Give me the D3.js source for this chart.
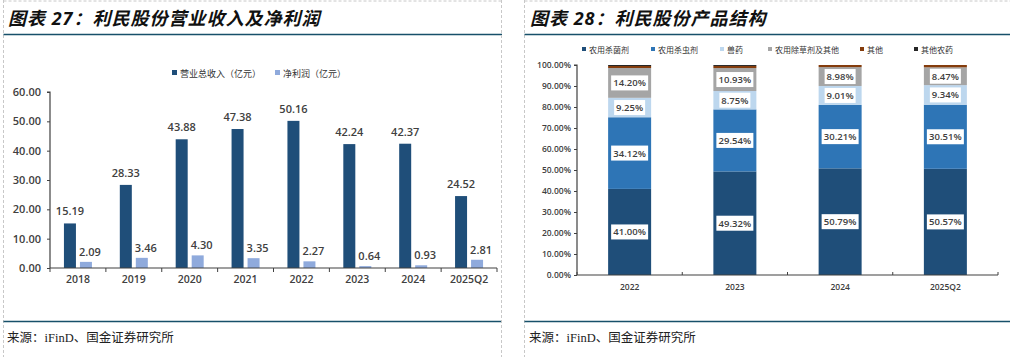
<!DOCTYPE html>
<html><head><meta charset="utf-8">
<script src="https://cdn.jsdelivr.net/npm/d3@7/dist/d3.min.js"></script>
<style>
body{margin:0;background:#fff;}
svg{display:block;}
text{font-family:"Open Sans","Noto Sans CJK SC",sans-serif;}
</style></head>
<body>
<svg id="c" width="1010" height="357"></svg>
<script>
// ---- Left chart data ----
const years = ["2018","2019","2020","2021","2022","2023","2024","2025Q2"];
const revenue = [15.19,28.33,43.88,47.38,50.16,42.24,42.37,24.52];
const netProfit = [2.09,3.46,4.30,3.35,2.27,0.64,0.93,2.81];
const leftSeries = ["营业总收入（亿元）","净利润（亿元）"];
const leftTicks = [0,10,20,30,40,50,60];

// ---- Right chart data ----
const periods = ["2022","2023","2024","2025Q2"];
const structSeries = ["农用杀菌剂","农用杀虫剂","兽药","农用除草剂及其他","其他","其他农药"];
const fungicide = [41.00,49.32,50.79,50.57];
const insecticide = [34.12,29.54,30.21,30.51];
const vetDrug = [9.25,8.75,9.01,9.34];
const herbicide = [14.20,10.93,8.98,8.47];
const others = [0.95,1.00,1.01,1.11];
const otherPesticide = [0.48,0.46,0.00,0.00];
const rightTicks = [0,10,20,30,40,50,60,70,80,90,100];

const svg = d3.select("#c");
const teal = "#17506a";
const axisCol = "#404040";
const labCol = "#404040";

// panel frames
function frame(x0,x1){
  svg.append("line").attr("x1",x0).attr("x2",x0).attr("y1",0).attr("y2",357)
    .attr("stroke","#c8c8c8").attr("stroke-dasharray","3,2");
  svg.append("line").attr("x1",x0).attr("x2",x1).attr("y1",1).attr("y2",1)
    .attr("stroke","#c8c8c8").attr("stroke-dasharray","3,2");
  svg.append("line").attr("x1",x0).attr("x2",x1).attr("y1",34.5).attr("y2",34.5)
    .attr("stroke",teal).attr("stroke-width",1.6);
  svg.append("line").attr("x1",x0).attr("x2",x1).attr("y1",321.5).attr("y2",321.5)
    .attr("stroke",teal).attr("stroke-width",1.3);
}
frame(3.5,502);
svg.append("line").attr("x1",501.5).attr("x2",501.5).attr("y1",0).attr("y2",357)
  .attr("stroke","#c8c8c8").attr("stroke-dasharray","3,2");
frame(524.5,1010);

// titles
svg.append("text").attr("x",8).attr("y",25).text("图表 27：利民股份营业收入及净利润")
  .attr("font-size",18).attr("letter-spacing",1).attr("font-weight","bold").attr("font-style","italic").attr("fill","#111");
svg.append("text").attr("x",530).attr("y",25).text("图表 28：利民股份产品结构")
  .attr("font-size",18).attr("letter-spacing",1).attr("font-weight","bold").attr("font-style","italic").attr("fill","#111");

// sources
[[7,"来源：iFinD、国金证券研究所"],[529,"来源：iFinD、国金证券研究所"]].forEach(([x,t])=>{
  svg.append("text").attr("x",x).attr("y",342).text(t)
    .attr("font-size",12.5).attr("fill","#222")
    .style("font-family","'Liberation Serif','Noto Sans CJK SC',serif");
});

// ===== Left chart =====
const L = {x0:50, x1:497, y0:268, y1:92};
const xL = d3.scaleBand().domain(years).range([L.x0,L.x1]);
const yL = d3.scaleLinear().domain([0,60]).range([L.y0,L.y1]);
const gL = svg.append("g");
const bw = 12, gap = 4;
const c1 = "#1f4e79", c2 = "#8faadc";

gL.selectAll(".rev").data(years).join("rect")
  .attr("x",d=>xL(d)+xL.bandwidth()/2-gap/2-bw)
  .attr("y",(d,i)=>yL(revenue[i])).attr("width",bw)
  .attr("height",(d,i)=>yL(0)-yL(revenue[i])).attr("fill",c1);
gL.selectAll(".np").data(years).join("rect")
  .attr("x",d=>xL(d)+xL.bandwidth()/2+gap/2)
  .attr("y",(d,i)=>yL(netProfit[i])).attr("width",bw)
  .attr("height",(d,i)=>yL(0)-yL(netProfit[i])).attr("fill",c2);

gL.selectAll(".revl").data(years).join("text")
  .attr("x",d=>xL(d)+xL.bandwidth()/2-gap/2-bw/2)
  .attr("y",(d,i)=>yL(revenue[i])-8).attr("text-anchor","middle")
  .attr("font-size",11).attr("font-weight",600).attr("fill",labCol)
  .text((d,i)=>revenue[i].toFixed(2));
gL.selectAll(".npl").data(years).join("text")
  .attr("x",d=>xL(d)+xL.bandwidth()/2+gap/2+bw/2+4)
  .attr("y",(d,i)=>yL(netProfit[i])-6).attr("text-anchor","middle")
  .attr("font-size",11).attr("font-weight",600).attr("fill",labCol)
  .text((d,i)=>netProfit[i].toFixed(2));

// axes left
const yAxL = gL.append("g").attr("transform",`translate(${L.x0},0)`)
  .call(d3.axisLeft(yL).tickValues(leftTicks).tickFormat(d=>d.toFixed(2)).tickSize(3).tickPadding(6));
const xAxL = gL.append("g").attr("transform",`translate(0,${L.y0})`)
  .call(d3.axisBottom(xL).tickSize(0).tickPadding(8));
// boundary ticks
gL.selectAll(".bt").data(years.concat(["end"])).join("line")
  .attr("x1",(d,i)=>L.x0+i*xL.bandwidth()).attr("x2",(d,i)=>L.x0+i*xL.bandwidth())
  .attr("y1",L.y0).attr("y2",L.y0+4).attr("stroke",axisCol);
[yAxL,xAxL].forEach(a=>{
  a.selectAll("path").attr("stroke",axisCol).attr("stroke-width",1.2);
  a.selectAll("line").attr("stroke",axisCol);
  a.selectAll("text").attr("font-size",11).attr("font-weight",600).attr("fill",labCol)
   .style("font-family","'Open Sans',sans-serif");
});
xAxL.selectAll("text").attr("font-size",10.5);
xAxL.select("path").attr("d",`M${L.x0},0H${L.x1}`);
yAxL.select("path").attr("d",`M-3,${L.y1}H0V${L.y0}`);

// legend left
const legL = svg.append("g");
[[172,c1,leftSeries[0]],[275,c2,leftSeries[1]]].forEach(([x,c,t])=>{
  legL.append("rect").attr("x",x).attr("y",70).attr("width",5).attr("height",5).attr("fill",c);
  legL.append("text").attr("x",x+8).attr("y",76.5).text(t).attr("font-size",9).attr("fill","#333")
    .style("font-family","'Noto Sans CJK SC',sans-serif");
});

// ===== Right chart =====
const R = {x0:577, x1:998, y0:275, y1:65};
const xR = d3.scaleBand().domain(periods).range([R.x0,R.x1]);
const yR = d3.scaleLinear().domain([0,100]).range([R.y0,R.y1]);
const colors = ["#1f4e79","#2e75b6","#bdd7ee","#a5a5a5","#843c0c","#262626"];
const seriesVals = [fungicide,insecticide,vetDrug,herbicide,others,otherPesticide];
const rows = periods.map((p,i)=>{const o={p}; structSeries.forEach((s,k)=>o[s]=seriesVals[k][i]); return o;});
const stacked = d3.stack().keys(structSeries)(rows);
const barW = 43;
const gR = svg.append("g");
stacked.forEach((layer,k)=>{
  gR.selectAll(".s"+k).data(layer).join("rect")
    .attr("x",d=>xR(d.data.p)+xR.bandwidth()/2-barW/2)
    .attr("y",d=>yR(d[1])).attr("width",barW)
    .attr("height",d=>Math.max(0,yR(d[0])-yR(d[1]))).attr("fill",colors[k]);
});
// labels for first four layers
stacked.slice(0,4).forEach((layer,k)=>{
  layer.forEach(d=>{
    const cx = xR(d.data.p)+xR.bandwidth()/2;
    const cy = (yR(d[0])+yR(d[1]))/2;
    const t = (d[1]-d[0]).toFixed(2)+"%";
    const w = t.length>5?37:31;
    gR.append("rect").attr("x",cx-w/2).attr("y",cy-7.5).attr("width",w).attr("height",15).attr("fill","#fff");
    gR.append("text").attr("x",cx).attr("y",cy+3.5).attr("text-anchor","middle")
      .attr("font-size",9.5).attr("font-weight",600).attr("fill","#404040").text(t);
  });
});
const yAxR = gR.append("g").attr("transform",`translate(${R.x0},0)`)
  .call(d3.axisLeft(yR).tickValues(rightTicks).tickFormat(d=>d.toFixed(2)+"%").tickSize(3).tickPadding(3));
const xAxR = gR.append("g").attr("transform",`translate(0,${R.y0})`)
  .call(d3.axisBottom(xR).tickSize(0).tickPadding(9));
gR.selectAll(".bt").data(periods.concat(["end"])).join("line")
  .attr("x1",(d,i)=>R.x0+i*xR.bandwidth()).attr("x2",(d,i)=>R.x0+i*xR.bandwidth())
  .attr("y1",R.y0).attr("y2",R.y0-3).attr("stroke",axisCol);
[yAxR,xAxR].forEach(a=>{
  a.selectAll("path").attr("stroke",axisCol).attr("stroke-width",1.2);
  a.selectAll("line").attr("stroke",axisCol);
  a.selectAll("text").attr("font-size",8.5).attr("font-weight",600).attr("fill",labCol)
   .style("font-family","'Open Sans',sans-serif");
});
xAxR.select("path").attr("d",`M${R.x0},0H${R.x1}`);
yAxR.select("path").attr("d",`M-3,${R.y1}H0V${R.y0}`);

// legend right
const legXs = [582,651,720,768,860,914];
const legR = svg.append("g");
structSeries.forEach((s,k)=>{
  legR.append("rect").attr("x",legXs[k]).attr("y",47).attr("width",4).attr("height",4).attr("fill",colors[k]);
  legR.append("text").attr("x",legXs[k]+7).attr("y",52.5).text(s).attr("font-size",8).attr("fill","#333")
    .style("font-family","'Noto Sans CJK SC',sans-serif");
});
</script>
</body></html>
